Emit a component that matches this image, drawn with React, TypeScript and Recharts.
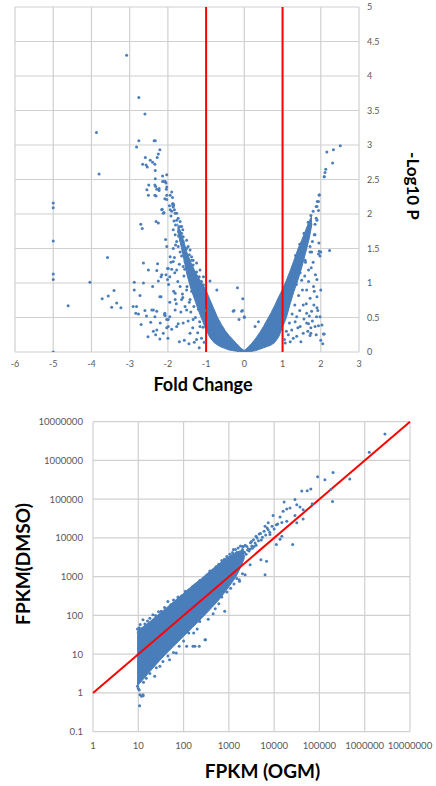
import React from 'react';
import { ComposedChart, Scatter, Area, XAxis, YAxis, CartesianGrid, ReferenceLine } from 'recharts';

// ---------- Volcano plot data ----------
const foldTicks = [-6, -5, -4, -3, -2, -1, 0, 1, 2, 3];
const logPTicks = [0, 0.5, 1, 1.5, 2, 2.5, 3, 3.5, 4, 4.5, 5];
const foldThresholds = [-1, 1];

// dense core of the volcano: [fold change, lower -log10 P, upper -log10 P]
const volcanoCore: [number, number, number][] = [
  [-1.75, 1.76, 1.86], [-1.65, 1.52, 1.72], [-1.55, 1.26, 1.54],
  [-1.5, 1.12, 1.44], [-1.4, 0.92, 1.3], [-1.3, 0.76, 1.18], [-1.2, 0.6, 1.08],
  [-1.1, 0.46, 0.99], [-1.0, 0.32, 0.89], [-0.9, 0.21, 0.76], [-0.8, 0.14, 0.63],
  [-0.7, 0.1, 0.5], [-0.6, 0.07, 0.4], [-0.5, 0.05, 0.31], [-0.4, 0.03, 0.24],
  [-0.3, 0.02, 0.18], [-0.2, 0.01, 0.12], [-0.1, 0.0, 0.06], [0, 0, 0.02],
  [0.1, 0, 0.07], [0.2, 0.01, 0.13], [0.3, 0.02, 0.2], [0.4, 0.04, 0.28],
  [0.5, 0.06, 0.37], [0.6, 0.08, 0.47], [0.7, 0.1, 0.57], [0.8, 0.14, 0.68],
  [0.9, 0.22, 0.8], [1.0, 0.36, 0.91], [1.1, 0.5, 1.04], [1.2, 0.7, 1.18],
  [1.3, 0.88, 1.33], [1.4, 1.04, 1.49], [1.5, 1.22, 1.62], [1.6, 1.43, 1.76],
  [1.7, 1.65, 1.9], [1.77, 1.86, 1.98],
];

// individual genes: [fold change, -log10 P]
const volcanoPoints: [number, number][] = [
  [-3.08, 4.3], [-2.76, 3.69], [-2.6, 3.45], [-3.87, 3.18], [-2.76, 3.06], [-2.36, 3.06], [-2.33, 3.06],
  [-2.82, 2.97], [-2.21, 2.93], [-2.25, 2.87], [-2.28, 2.82], [-2.59, 2.82], [-2.46, 2.78], [-2.4, 2.75],
  [-2.66, 2.72], [-2.57, 2.71], [-2.54, 2.68], [-2.34, 2.72], [-2.33, 2.63], [-3.8, 2.58], [-2.14, 2.55],
  [-2.03, 2.57], [-2.33, 2.51], [-2.07, 2.47], [-2.05, 2.45], [-2.5, 2.42], [-2.32, 2.4], [-2.23, 2.37],
  [-2.23, 2.34], [-2.03, 2.39], [-2.04, 2.36], [-2.55, 2.35], [-1.9, 2.32], [-1.94, 2.27], [-2.03, 2.27],
  [-2.51, 2.27], [-2.31, 2.26], [-2.08, 2.22], [-1.88, 2.24], [-2.34, 2.42], [-2.29, 2.36], [-2.34, 2.27],
  [-2.14, 2.47], [-2.1, 2.47], [-2.03, 2.21], [-1.88, 2.15], [-1.87, 2.12], [-1.85, 2.13], [-1.86, 2.1],
  [-2.15, 2.07], [-2.1, 2.02], [-1.94, 2.06], [-1.77, 2.01], [-1.73, 1.94], [-1.68, 1.89], [-1.64, 1.82],
  [-1.61, 1.77], [-1.6, 1.67], [-1.51, 1.62], [-1.47, 1.53], [-1.42, 1.48], [-1.38, 1.38], [-1.34, 1.33],
  [-1.25, 1.29], [-1.16, 1.19], [-1.07, 1.09], [-1.86, 1.77], [-1.81, 1.7], [-1.77, 1.6], [-1.73, 1.53],
  [-1.68, 1.45], [-1.64, 1.39], [-1.55, 1.31], [-1.51, 1.23], [-1.42, 1.16], [-1.34, 1.09], [-1.25, 1.04],
  [-1.16, 0.97], [-1.86, 2.15], [-1.81, 2.01], [-1.77, 1.91], [-1.68, 1.82], [-1.64, 1.72], [-1.6, 1.6],
  [-1.51, 1.5], [-1.44, 1.41], [-1.38, 1.33], [-1.34, 1.26], [-1.25, 1.16], [-1.18, 1.09], [-1.12, 1.02],
  [-1.07, 0.97], [-2.03, 1.53], [-1.94, 1.38], [-1.86, 1.31], [-1.7, 1.75], [-1.58, 1.46], [-1.48, 1.36],
  [-1.56, 1.2], [-1.46, 1.26], [-1.4, 1.05], [-1.3, 0.98], [-1.84, 1.9], [-1.8, 1.84], [-1.9, 2.04],
  [-1.96, 2.12], [-1.92, 1.97], [-1.83, 2.06], [-1.72, 1.68], [-1.66, 1.62],
  [-5, 2.16], [-5, 2.09], [-5, 1.61], [-5, 1.13], [-5, 1.05], [-5, 0],
  [-4.61, 0.67], [-4.04, 1.01], [-3.58, 1.37], [-3.72, 0.77], [-3.56, 0.81], [-3.41, 0.89], [-3.47, 0.65],
  [-3.34, 0.71], [-3.23, 0.64], [-2.88, 1.01], [-2.64, 1.0], [-2.88, 0.9], [-2.73, 0.82], [-2.91, 0.66],
  [-2.82, 0.66], [-2.84, 0.56], [-2.77, 0.55], [-2.56, 0.52], [-2.64, 1.29], [-2.71, 1.85], [-2.67, 1.79],
  [-2.31, 1.89], [-2.25, 1.87], [-2.16, 2.06], [-2.12, 2.01], [-2.29, 1.18], [-2.18, 1.09], [-2.25, 1.03],
  [-2.01, 1.05], [-1.9, 1.2], [-2.4, 0.95], [-2.18, 0.8], [-2.42, 0.61], [-2.29, 0.59], [-2.09, 0.54],
  [-2.07, 0.53], [-1.99, 0.47], [-2.03, 0.47], [-2.38, 0.3], [-2.32, 0.25], [-2.21, 0.19], [-1.81, 0.61],
  [-2.03, 0.35], [-1.99, 0.37], [-1.73, 0.41], [-1.57, 0.17], [-1.31, 0.14], [-1.81, 0.76], [-1.61, 0.79],
  [-2.06, 1.63], [-1.86, 1.5], [-1.8, 1.55], [-1.83, 1.37], [-2.27, 1.28], [-2.01, 1.21], [-2.51, 1.19],
  [-2.38, 0.61], [-2.21, 0.8], [-2.08, 0.56], [-1.95, 0.51], [-1.77, 0.37], [-1.6, 0.42], [-1.42, 0.27],
  [-1.25, 0.18], [-1.16, 0.37], [-1.34, 0.47], [-2.29, 0.32], [-2.12, 0.27], [-2.34, 0.51], [-1.51, 0.61],
  [-1.64, 0.76], [-1.42, 0.76], [-1.81, 0.85], [-1.68, 0.95], [-1.51, 0.9], [-1.95, 1.09], [-1.77, 1.19],
  [-1.6, 1.24], [-2.16, 1.12], [-1.99, 1.21],
  [-2.05, 1.12], [-1.98, 0.98], [-1.92, 1.3], [-1.85, 0.88], [-1.82, 1.15], [-1.78, 0.7], [-1.74, 1.02],
  [-1.7, 1.27], [-1.66, 0.58], [-1.62, 0.84], [-1.58, 1.1], [-1.55, 0.66], [-1.5, 0.95], [-1.47, 0.45],
  [-1.44, 0.72], [-1.4, 0.58], [-1.38, 0.88], [-1.35, 0.35], [-1.32, 0.66], [-1.28, 0.5], [-1.26, 0.8],
  [-1.22, 0.28], [-1.2, 0.62], [-1.17, 0.44], [-1.14, 0.7], [-1.12, 0.2], [-1.1, 0.52], [-1.08, 0.36],
  [-1.05, 0.14], [-1.03, 0.6], [-2.2, 0.42], [-2.45, 0.43], [-2.6, 0.6], [-2.7, 0.4], [-2.52, 0.22],
  [-2.0, 0.2], [-1.9, 0.33], [-1.7, 0.15], [-1.45, 0.12], [-1.18, 0.06], [-1.95, 0.72],
  [-0.9, 1.03], [-0.72, 0.9], [-0.18, 0.93], [-0.04, 0.77], [-0.29, 0.59], [0.0, 0.51], [-0.07, 0.59],
  [-0.27, 0.6], [-0.05, 0.6], [-0.14, 0.47], [0.0, 0.5], [0.37, 0.44], [0.28, 0.37],
  [2.51, 2.99], [2.33, 2.93], [2.16, 2.9], [2.31, 2.74], [2.13, 2.65], [2.09, 2.54], [1.96, 2.27],
  [1.91, 2.18], [1.88, 2.11], [1.94, 2.05], [1.88, 1.94], [1.83, 1.7], [2.23, 1.47], [2.0, 1.45],
  [1.98, 1.39], [1.94, 1.42], [1.76, 1.45], [1.83, 0.88], [1.89, 0.51], [1.94, 0.38], [2.09, 0.26],
  [2.0, 0.17], [1.74, 0.27], [1.68, 0.41], [1.74, 0.35], [1.07, 0.13], [1.2, 0.15], [1.37, 0.23],
  [1.54, 0.27], [1.72, 0.24], [1.46, 0.37], [1.63, 0.42], [1.85, 0.37], [1.98, 0.51], [1.9, 0.64],
  [1.76, 0.59], [2.03, 0.39], [2.07, 0.26], [1.63, 0.56], [1.37, 0.51], [1.54, 0.68], [1.72, 0.78],
  [1.81, 0.95], [1.96, 1.46], [1.68, 1.19], [1.5, 1.04], [1.63, 0.9], [1.9, 0.8], [1.24, 0.32],
  [1.33, 0.44], [1.15, 0.25], [1.59, 1.33], [1.72, 1.53], [1.85, 1.7], [1.9, 1.91], [1.9, 2.11],
  [1.94, 2.18], [1.96, 2.28], [2.09, 2.54], [2.11, 2.6],
  [1.1, 0.3], [1.18, 0.42], [1.25, 0.55], [1.28, 0.2], [1.32, 0.68], [1.4, 0.35], [1.42, 0.82],
  [1.45, 0.6], [1.48, 0.15], [1.52, 0.9], [1.56, 0.48], [1.58, 1.1], [1.62, 0.7], [1.66, 0.3],
  [1.68, 1.02], [1.7, 0.52], [1.75, 1.22], [1.78, 0.45], [1.8, 1.3], [1.82, 0.68], [1.86, 1.12],
  [1.88, 0.25], [1.9, 1.05], [1.92, 0.6], [1.05, 0.18], [1.12, 0.62], [1.22, 0.86], [1.36, 0.98],
  [1.46, 1.15], [1.6, 1.3], [1.72, 1.45], [1.78, 1.6], [2.0, 0.9], [2.05, 0.12], [1.95, 1.58],
  [1.85, 1.85], [1.8, 2.04], [1.74, 1.98], [1.67, 1.88], [1.56, 1.72], [1.45, 1.56], [1.34, 1.4],
];

// ---------- FPKM scatter data ----------
const fpkmTicks = [1, 10, 100, 1000, 10000, 100000, 1000000, 10000000];
const fpkmYTicks = [0.1, 1, 10, 100, 1000, 10000, 100000, 1000000, 10000000];
const identityEnds = [1, 10000000];

// dense core: [FPKM OGM, lower FPKM DMSO, upper FPKM DMSO]
const fpkmCore: [number, number, number][] = [
  [9.4, 1.7, 36], [10, 1.6, 42], [13, 2.3, 52], [17, 3.3, 66], [25, 5.5, 95], [40, 10, 150],
  [60, 16, 225], [100, 29, 370], [160, 50, 600], [250, 85, 900], [400, 150, 1450],
  [650, 280, 2300], [1000, 550, 3300], [1400, 950, 4200], [1800, 1700, 4700], [2200, 3000, 4600],
];

// individual genes: [FPKM OGM, FPKM DMSO]
const fpkmPoints: [number, number][] = [
  [9.6, 45], [10.5, 48], [11, 58], [12.7, 78], [14, 60], [16, 72], [18, 85], [21, 105], [24, 100],
  [28, 125], [32, 128], [38, 160], [45, 230], [52, 190], [60, 250], [75, 300], [90, 320], [110, 420],
  [130, 450], [160, 560], [190, 640], [230, 800], [280, 900], [330, 1100], [380, 1400], [450, 1500],
  [520, 1800], [600, 2100], [700, 2600], [800, 2800], [900, 3300], [1050, 3800], [1200, 4200],
  [1400, 5000], [1600, 5500], [1800, 6200], [2000, 6000], [2300, 6500],
  [9.6, 1.5], [10, 1.3], [10.5, 1.2], [10.9, 0.9], [11.8, 0.82], [12.8, 0.85], [10.7, 0.47], [12.7, 0.9],
  [13, 1.9], [15, 2.4], [18, 3.2], [23, 2.7], [25, 4.5], [30, 4.9], [35, 6.5], [49, 7.2], [45, 9],
  [60, 11], [69, 10.7], [75, 24], [80, 16], [100, 22], [117, 16], [130, 35], [161, 16], [167, 35],
  [178, 16], [200, 45], [222, 16], [228, 70], [296, 23.7], [306, 23.7], [350, 80], [450, 110],
  [500, 150], [600, 200], [810, 128], [700, 300], [900, 400], [1100, 500], [1300, 650], [1720, 760],
  [1500, 900], [2000, 1200],
  [4680, 12600], [3980, 11000], [7400, 16200], [8100, 12300], [14800, 11000], [11200, 6800],
  [25700, 6800], [13500, 9300], [3160, 8100], [2090, 6000], [2950, 5200], [1260, 5000], [5100, 2750],
  [6800, 2500], [2950, 2040], [6300, 1120], [2290, 1120], [1700, 830], [7400, 24500], [14800, 25100],
  [19000, 26900], [11200, 21900], [6300, 20000], [43700, 30900], [31600, 24500], [9500, 38000],
  [28800, 38000], [13500, 34700], [15800, 49000], [22400, 58900], [19000, 56200], [43700, 53700],
  [37200, 63100], [31600, 72400], [69200, 75900], [16600, 85100], [28800, 97700], [195000, 87100],
  [40700, 162000], [53700, 166000], [64600, 182000], [178000, 178000], [91200, 380000],
  [132000, 316000], [468000, 331000], [200000, 490000], [1260000, 1620000], [2800000, 4800000],
  [1300, 3000], [1500, 4200], [1700, 3600], [2000, 5000], [2200, 4300], [2500, 6000], [2700, 5200],
  [3000, 7500], [3200, 6200], [3500, 9000], [3800, 7400], [4200, 10000], [4500, 8500], [5000, 13000],
  [5500, 10500], [6000, 15000], [6500, 12000], [7000, 18000], [8000, 14000], [9000, 20000],
  [10000, 17000], [12000, 23000], [2400, 3800], [2800, 4600], [3300, 5400], [4000, 6500], [1800, 2600],
  [2100, 3300], [1400, 2400], [1100, 2000], [1600, 2900], [2600, 4900], [3600, 6000], [5200, 8800],
];

// ---------- styles ----------
const BLUE = '#4a7ebb';
const GRID = '#d0d0d0';
const FONT = 'Lato, "Liberation Sans", sans-serif';
const TICK = { fill: '#595959', fontSize: 9, fontFamily: FONT };
const TICK2 = { fill: '#595959', fontSize: 9.6, fontFamily: FONT };
const TITLE: React.CSSProperties = { fontFamily: 'Lato, "Noto Sans", sans-serif', fontWeight: 700, fill: '#000' };

const Dot = (props: any) =>
  props.cx == null || props.cy == null ? null : <circle cx={props.cx} cy={props.cy} r={1.5} fill={BLUE} />;

const volcanoCoreData = volcanoCore.map(([x, lo, hi]) => ({ x, range: [lo, hi] }));
const volcanoData = volcanoPoints.map(([x, y]) => ({ x, y }));
const fpkmCoreData = fpkmCore.map(([x, lo, hi]) => ({ x, range: [lo, hi] }));
const fpkmData = fpkmPoints.map(([x, y]) => ({ x, y }));

export default function App() {
  return (
    <div style={{ position: 'absolute', left: 0, top: 0, width: 436, height: 786, background: '#fff' }}>
      <div style={{ position: 'absolute', left: 0, top: 0 }}>
        <ComposedChart width={436} height={400} data={volcanoCoreData} margin={{ top: 7, right: 0, bottom: 0, left: 15 }}>
          <CartesianGrid stroke={GRID} strokeWidth={1.2} />
          <XAxis
            dataKey="x"
            type="number"
            domain={[-6, 3]}
            ticks={foldTicks}
            allowDataOverflow
            tickLine={false}
            axisLine={false}
            tickSize={0}
            tickMargin={9}
            height={48}
            tick={TICK}
            label={{
              content: () => (
                <text x={203} y={384} textAnchor="middle" dominantBaseline="central" fontSize={18} style={TITLE}>
                  Fold Change
                </text>
              ),
            }}
          />
          <YAxis
            orientation="right"
            dataKey="y"
            type="number"
            domain={[0, 5]}
            ticks={logPTicks}
            allowDataOverflow
            tickLine={false}
            axisLine={false}
            tickSize={0}
            tickMargin={8}
            width={77}
            tick={{ ...TICK, textAnchor: 'start' }}
            label={{
              content: () => (
                <text
                  x={413}
                  y={186}
                  textAnchor="middle"
                  dominantBaseline="central"
                  fontSize={17}
                  style={TITLE}
                  transform="rotate(90 413 186)"
                >
                  -Log10 P
                </text>
              ),
            }}
          />
          <Area dataKey="range" type="linear" stroke={BLUE} strokeWidth={1} fill={BLUE} fillOpacity={1} isAnimationActive={false} />
          <Scatter data={volcanoData} shape={Dot} isAnimationActive={false} />
          {foldThresholds.map((t) => (
            <ReferenceLine key={t} x={t} stroke="#ff0000" strokeWidth={2} />
          ))}
        </ComposedChart>
      </div>
      <div style={{ position: 'absolute', left: 0, top: 400 }}>
        <ComposedChart width={436} height={386} data={fpkmCoreData} margin={{ top: 21.7, right: 26, bottom: 0, left: 0 }}>
          <CartesianGrid stroke={GRID} strokeWidth={1.2} />
          <XAxis
            dataKey="x"
            type="number"
            scale="log"
            domain={[1, 10000000]}
            ticks={fpkmTicks}
            allowDataOverflow
            tickLine={false}
            axisLine={false}
            tickSize={0}
            tickMargin={10}
            height={54.3}
            tick={TICK2}
            interval={0}
            label={{
              content: () => (
                <text x={262.5} y={370} textAnchor="middle" dominantBaseline="central" fontSize={19} style={TITLE}>
                  FPKM (OGM)
                </text>
              ),
            }}
          />
          <YAxis
            dataKey="y"
            type="number"
            scale="log"
            domain={[0.1, 10000000]}
            ticks={fpkmYTicks}
            allowDataOverflow
            tickLine={false}
            axisLine={false}
            tickSize={0}
            tickMargin={10}
            width={93}
            tick={TICK2}
            interval={0}
            label={{
              content: () => (
                <text
                  x={22.5}
                  y={164}
                  textAnchor="middle"
                  dominantBaseline="central"
                  fontSize={19}
                  style={TITLE}
                  transform="rotate(-90 22.5 164)"
                >
                  FPKM(DMSO)
                </text>
              ),
            }}
          />
          <Area dataKey="range" type="linear" stroke={BLUE} strokeWidth={1} fill={BLUE} fillOpacity={1} isAnimationActive={false} />
          <Scatter data={fpkmData} shape={Dot} isAnimationActive={false} />
          <ReferenceLine
            segment={[
              { x: identityEnds[0], y: identityEnds[0] },
              { x: identityEnds[1], y: identityEnds[1] },
            ]}
            stroke="#ff0000"
            strokeWidth={2}
            ifOverflow="visible"
          />
        </ComposedChart>
      </div>
    </div>
  );
}
